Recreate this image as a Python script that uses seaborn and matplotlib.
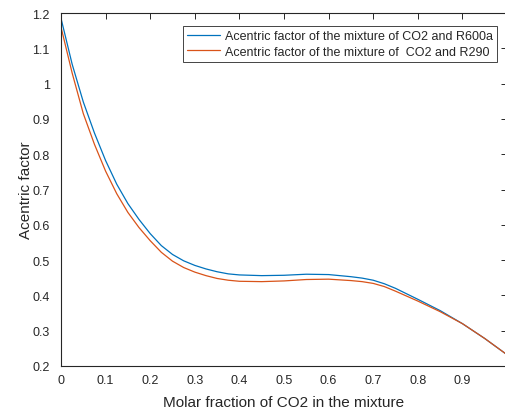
import numpy as np
import pandas as pd
import matplotlib
matplotlib.use("Agg")
import matplotlib.pyplot as plt
import seaborn as sns

# Values
co2_fraction = [0.0, 0.025, 0.05, 0.075, 0.1, 0.125, 0.15, 0.175, 0.2, 0.225, 0.25, 0.275,
                0.3, 0.325, 0.35, 0.375, 0.4, 0.45, 0.5, 0.55, 0.6, 0.65, 0.675, 0.7,
                0.725, 0.75, 0.8, 0.85, 0.9, 0.95, 1.0]
omega_r600a = [1.185, 1.055, 0.948, 0.860, 0.782, 0.715, 0.660, 0.615, 0.575, 0.541, 0.516, 0.498,
               0.485, 0.475, 0.467, 0.461, 0.458, 0.456, 0.457, 0.460, 0.459, 0.453, 0.449, 0.443,
               0.433, 0.420, 0.389, 0.357, 0.320, 0.278, 0.232]
omega_r290 = [1.160, 1.030, 0.915, 0.828, 0.752, 0.688, 0.635, 0.592, 0.555, 0.522, 0.497, 0.479,
              0.466, 0.456, 0.448, 0.443, 0.440, 0.439, 0.441, 0.445, 0.446, 0.442, 0.439, 0.434,
              0.425, 0.412, 0.384, 0.354, 0.320, 0.278, 0.232]

label_r600a = "Acentric factor of the mixture of CO2 and R600a"
label_r290 = "Acentric factor of the mixture of  CO2 and R290"

x_ticks = [0, 0.1, 0.2, 0.3, 0.4, 0.5, 0.6, 0.7, 0.8, 0.9]
y_ticks = [0.2, 0.3, 0.4, 0.5, 0.6, 0.7, 0.8, 0.9, 1.0, 1.1, 1.2]

sns.set_theme(style="white")
plt.rcParams['font.family'] = ['Liberation Sans', 'DejaVu Sans']

text_color = "#262626"
plt.rcParams['xtick.direction'] = 'in'
plt.rcParams['ytick.direction'] = 'in'

fig = plt.figure(figsize=(5.05, 4.1), dpi=100)
# right edge of the axes lies just outside the picture, as in the reference
ax = fig.add_axes([61 / 505, 43 / 410, 446 / 505, 353 / 410])

df = pd.DataFrame({"x": co2_fraction, "r600a": omega_r600a, "r290": omega_r290})
sns.lineplot(data=df, x="x", y="r600a", ax=ax, color="#0072BD", linewidth=0.9, label=label_r600a)
sns.lineplot(data=df, x="x", y="r290", ax=ax, color="#D95319", linewidth=0.9, label=label_r290)

ax.set_xlim(0, 1)
ax.set_ylim(0.2, 1.2)
ax.set_xticks(x_ticks)
ax.set_yticks(y_ticks)
ax.set_xticklabels([f"{t:g}" for t in x_ticks])
ax.set_yticklabels([f"{t:g}" for t in y_ticks])
ax.tick_params(axis="both", which="both", top=True, right=True, length=4, width=0.7,
               colors=text_color, labelsize=9)
ax.tick_params(axis="x", pad=6)
ax.tick_params(axis="y", pad=8)

for side in ["left", "right", "top", "bottom"]:
    ax.spines[side].set_visible(True)
    ax.spines[side].set_color(text_color)
    ax.spines[side].set_linewidth(0.8)

ax.set_xlabel("Molar fraction of CO2 in the mixture", fontsize=11, color=text_color, labelpad=6)
ax.set_ylabel("Acentric factor", fontsize=11, color=text_color, labelpad=0)

leg = ax.legend(loc="upper right", bbox_to_anchor=(497 / 505, 1 - 27 / 410),
                bbox_transform=fig.transFigure, borderaxespad=0, fontsize=9,
                handlelength=2.6, handletextpad=0.4, labelspacing=0.25,
                borderpad=0.35, fancybox=False, framealpha=1)
leg.get_frame().set_edgecolor(text_color)
leg.get_frame().set_linewidth(0.6)
for t in leg.get_texts():
    t.set_color(text_color)

fig.savefig("out.png", dpi=100)
